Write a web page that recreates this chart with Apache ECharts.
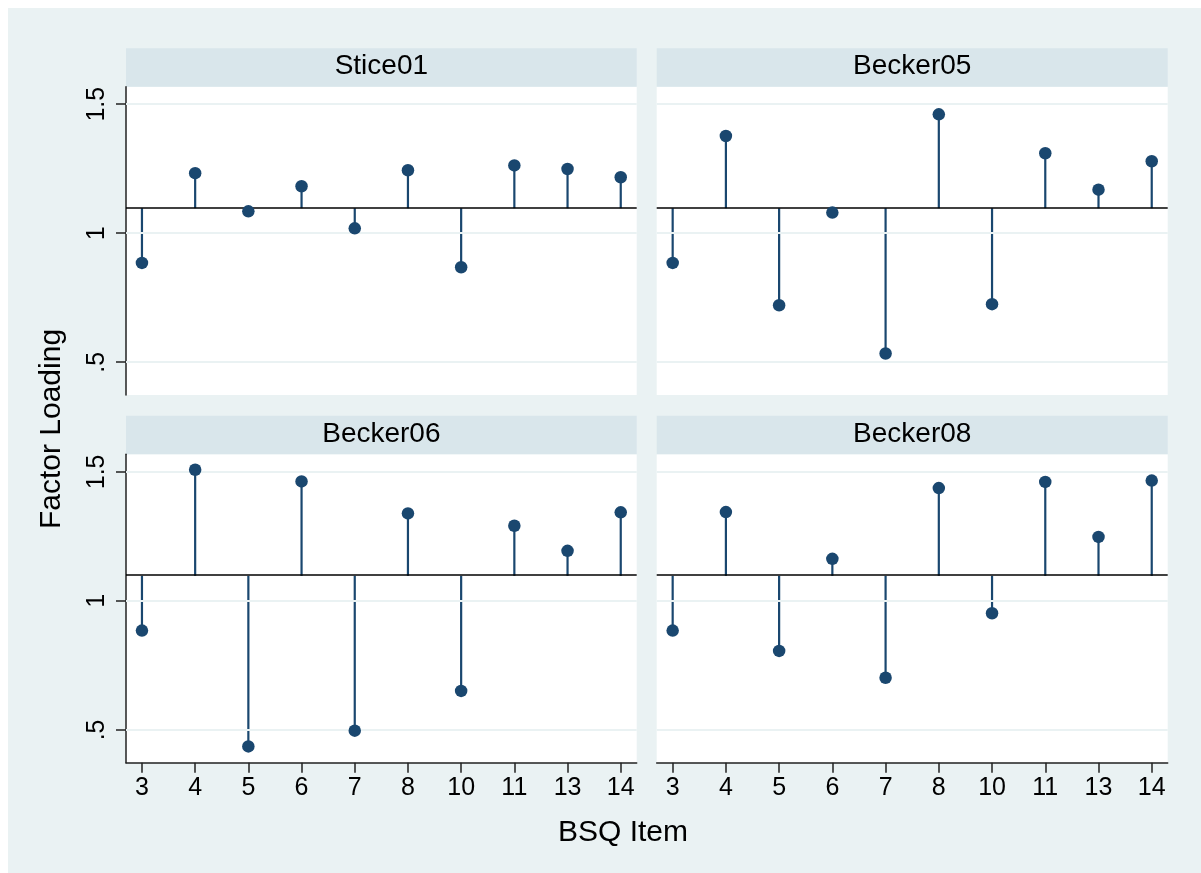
<!DOCTYPE html>
<html>
<head>
<meta charset="utf-8">
<script src="https://cdn.jsdelivr.net/npm/echarts@6/dist/echarts.min.js"></script>
<style>
html,body{margin:0;padding:0;background:#fff;}
#chart{width:1201px;height:873px;}
</style>
</head>
<body>
<div id="chart"></div>
<script>
// ---- data ----
const items = ['3','4','5','6','7','8','10','11','13','14'];
const panelNames = ['Stice01','Becker05','Becker06','Becker08'];
const stice01  = [0.885,1.233,1.085,1.182,1.019,1.244,0.868,1.263,1.249,1.217];
const becker05 = [0.885,1.377,0.721,1.080,0.534,1.461,0.725,1.310,1.169,1.279];
const becker06 = [0.885,1.508,0.436,1.463,0.497,1.339,0.651,1.291,1.194,1.343];
const becker08 = [0.885,1.344,0.806,1.163,0.702,1.437,0.952,1.461,1.248,1.466];
const baseline = 1.097;
const yTicks = [0.5, 1, 1.5];
const yTickLabels = ['.5', '1', '1.5'];
const xTitle = 'BSQ Item';
const yTitle = 'Factor Loading';

// ---- layout ----
const FONT = "'Liberation Sans', Arial, Helvetica, sans-serif";
const NAVY = '#1a476f';
const BG = '#eaf2f3';
const HEAD = '#d9e6eb';
const AXC = '#222';
const panelValues = [stice01, becker05, becker06, becker08];
const cols = [{left:126, width:510.7}, {left:656.7, width:511}];
const rows = [{top:86.7, height:308.3, headTop:48.3}, {top:454.3, height:308.4, headTop:415.7}];
const xPos = items.map((_, i) => i + 1);

const grids = [], xAxes = [], yAxes = [], series = [], graphics = [];
graphics.push({type:'rect', shape:{x:8, y:8, width:1193, height:865}, style:{fill:BG}, z:-10, silent:true});

panelNames.forEach((name, p) => {
  const c = cols[p % 2], r = rows[Math.floor(p / 2)];
  const isLeft = p % 2 === 0, isBottom = p >= 2;
  grids.push({left:c.left, top:r.top, width:c.width, height:r.height, show:true,
              backgroundColor:'#fff', borderWidth:0, containLabel:false});
  graphics.push({type:'rect', shape:{x:c.left, y:r.headTop, width:c.width, height:r.top - r.headTop},
                 style:{fill:HEAD}, silent:true});
  graphics.push({type:'text', x:c.left + c.width / 2, y:(r.headTop + r.top) / 2 - 1,
                 style:{text:name, font:'28px ' + FONT, fill:'#000', textAlign:'center', textVerticalAlign:'middle'}, silent:true});
  xAxes.push({
    type:'value', gridIndex:p, min:0.7, max:10.3,
    axisLine:{show:isBottom, onZero:false, lineStyle:{color:AXC, width:1.5}},
    axisTick:{show:isBottom, length:10, customValues:xPos, lineStyle:{color:AXC, width:1.5}},
    axisLabel:{show:isBottom, customValues:xPos, margin:13, fontSize:25, fontFamily:FONT, color:'#000',
               formatter:v => items[Math.round(v) - 1]},
    splitLine:{show:false}
  });
  yAxes.push({
    type:'value', gridIndex:p, min:0.373, max:1.568,
    axisLine:{show:isLeft, onZero:false, lineStyle:{color:AXC, width:1.5}},
    axisTick:{show:isLeft, length:10, customValues:yTicks, lineStyle:{color:AXC, width:1.5}},
    axisLabel:{show:isLeft, customValues:yTicks, rotate:90, margin:16, fontSize:25, fontFamily:FONT, color:'#000',
               formatter:v => yTickLabels[yTicks.indexOf(v)]},
    splitLine:{show:false}
  });
  const data = panelValues[p].map((v, i) => [xPos[i], v]);
  // gridlines
  series.push({type:'line', xAxisIndex:p, yAxisIndex:p, data:[], silent:true, z:1,
    markLine:{silent:true, symbol:'none', label:{show:false}, animation:false,
      lineStyle:{color:BG, width:2, type:'solid'}, data:yTicks.map(v => ({yAxis:v}))}});
  // baseline
  series.push({type:'line', xAxisIndex:p, yAxisIndex:p, data:[], silent:true, z:3,
    markLine:{silent:true, symbol:'none', label:{show:false}, animation:false,
      lineStyle:{color:'#000', width:1.5, type:'solid'}, data:[{yAxis:baseline}]}});
  // stems
  series.push({type:'custom', xAxisIndex:p, yAxisIndex:p, data:data, z:4,
    renderItem:(params, api) => {
      const x = api.value(0), v = api.value(1);
      const p0 = api.coord([x, baseline]), p1 = api.coord([x, v]);
      return {type:'line', shape:{x1:p0[0], y1:p0[1], x2:p1[0], y2:p1[1]},
              style:{stroke:NAVY, lineWidth:2.2}};
    }});
  // markers
  series.push({type:'scatter', xAxisIndex:p, yAxisIndex:p, data:data, z:5,
    symbol:'circle', symbolSize:12.5, itemStyle:{color:NAVY, opacity:1}});
});

graphics.push({type:'text', x:52, y:429, rotation:Math.PI / 2,
  style:{text:yTitle, font:'30px ' + FONT, fill:'#000', textAlign:'center', textVerticalAlign:'middle'}, silent:true});
graphics.push({type:'text', x:623, y:833,
  style:{text:xTitle, font:'30px ' + FONT, fill:'#000', textAlign:'center', textVerticalAlign:'middle'}, silent:true});

const chart = echarts.init(document.getElementById('chart'), null, {renderer:'canvas'});
chart.setOption({
  animation:false,
  backgroundColor:'#fff',
  grid:grids, xAxis:xAxes, yAxis:yAxes, series:series,
  graphic:{elements:graphics}
});
</script>
</body>
</html>
